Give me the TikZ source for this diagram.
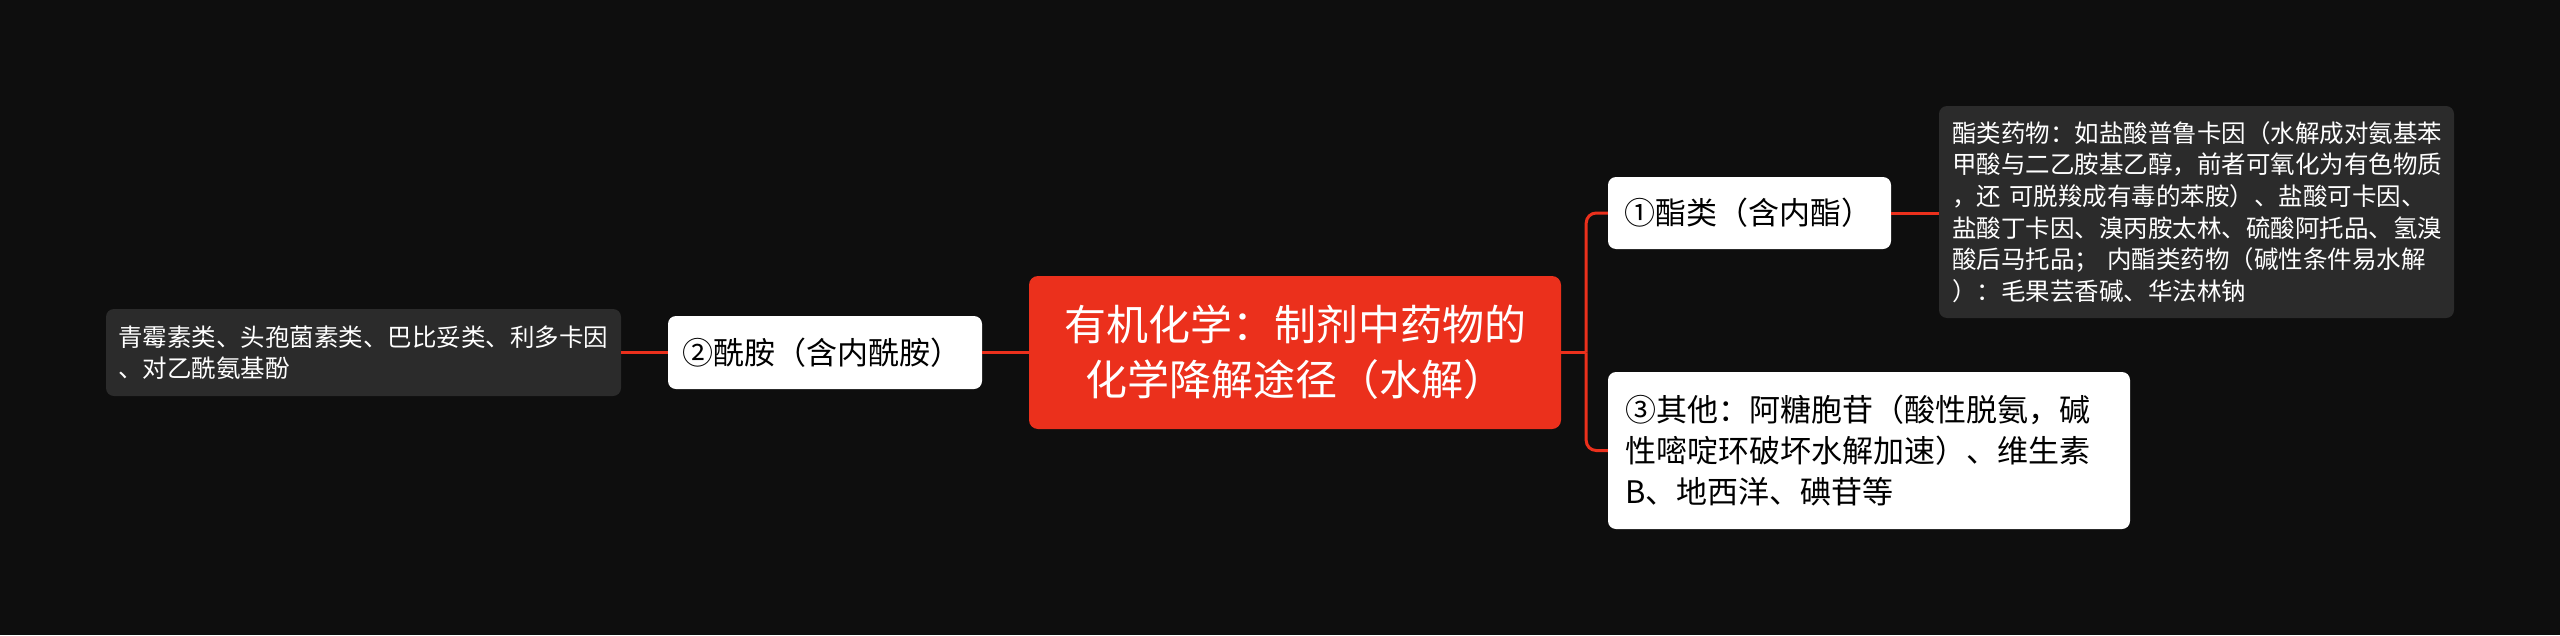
\documentclass[tikz,border=0pt]{standalone}
\usepackage{fontspec}
\setmainfont{Noto Sans CJK SC}
\definecolor{bgc}{RGB}{14,14,14}
\definecolor{redc}{RGB}{235,48,28}
\definecolor{grayc}{RGB}{43,43,43}
\begin{document}
\begin{tikzpicture}[x=1pt,y=-1pt,
  mainbox/.style={fill=redc, rounded corners=9pt, text=white, align=center, inner sep=0pt,
    font=\fontsize{42}{55}\selectfont},
  whitebox/.style={fill=white, rounded corners=8pt, text=black, align=left, inner ysep=0pt,
    font=\fontsize{31}{41}\selectfont},
  graybox/.style={fill=grayc, rounded corners=8pt, text=white, align=left, inner ysep=0pt,
    font=\fontsize{24.5}{31.6}\selectfont},
  conn/.style={draw=redc, line width=3pt}
]
\fill[bgc] (0,0) rectangle (2560,635);
\useasboundingbox (0,0) rectangle (2560,635);

\node[mainbox, minimum width=532pt, minimum height=153pt, text width=500pt] (main) at (1295,352.5)
  {有机化学：制剂中药物的\\化学降解途径（水解）};

\node[whitebox, minimum width=283pt, minimum height=72pt, inner xsep=16pt, text width=251pt] (n1) at (1749.5,213)
  {①酯类（含内酯）};

\node[whitebox, minimum width=522pt, minimum height=157pt, inner xsep=17pt, text width=488pt] (n3) at (1869,450.5)
  {③其他：阿糖胞苷（酸性脱氨，碱\\性嘧啶环破坏水解加速）、维生素\\B、地西洋、碘苷等};

\node[whitebox, minimum width=314pt, minimum height=73pt, inner xsep=14pt, text width=286pt] (n2) at (825,352.5)
  {②酰胺（含内酰胺）};

\node[graybox, minimum width=515pt, minimum height=212pt, inner xsep=13pt, text width=489pt] (g1) at (2196.5,212)
  {酯类药物：如盐酸普鲁卡因（水解成对氨基苯\\甲酸与二乙胺基乙醇，前者可氧化为有色物质\\，还 可脱羧成有毒的苯胺）、盐酸可卡因、\\盐酸丁卡因、溴丙胺太林、硫酸阿托品、氢溴\\酸后马托品； 内酯类药物（碱性条件易水解\\）：毛果芸香碱、华法林钠};

\node[graybox, minimum width=515pt, minimum height=87pt, inner xsep=12pt, text width=491pt] (g2) at (363.5,352.5)
  {青霉素类、头孢菌素类、巴比妥类、利多卡因\\、对乙酰氨基酚};

\path (main.east) ++(25,0) coordinate (j);
\draw[conn] (main.east) -- (j);
\draw[conn, rounded corners=10pt] (j) |- (n1.west);
\draw[conn, rounded corners=10pt] (j) |- (n3.west);
\draw[conn] (n1.east) -- (g1.west |- n1.east);
\draw[conn] (main.west) -- (n2.east);
\draw[conn] (n2.west) -- (g2.east);
\end{tikzpicture}
\end{document}
